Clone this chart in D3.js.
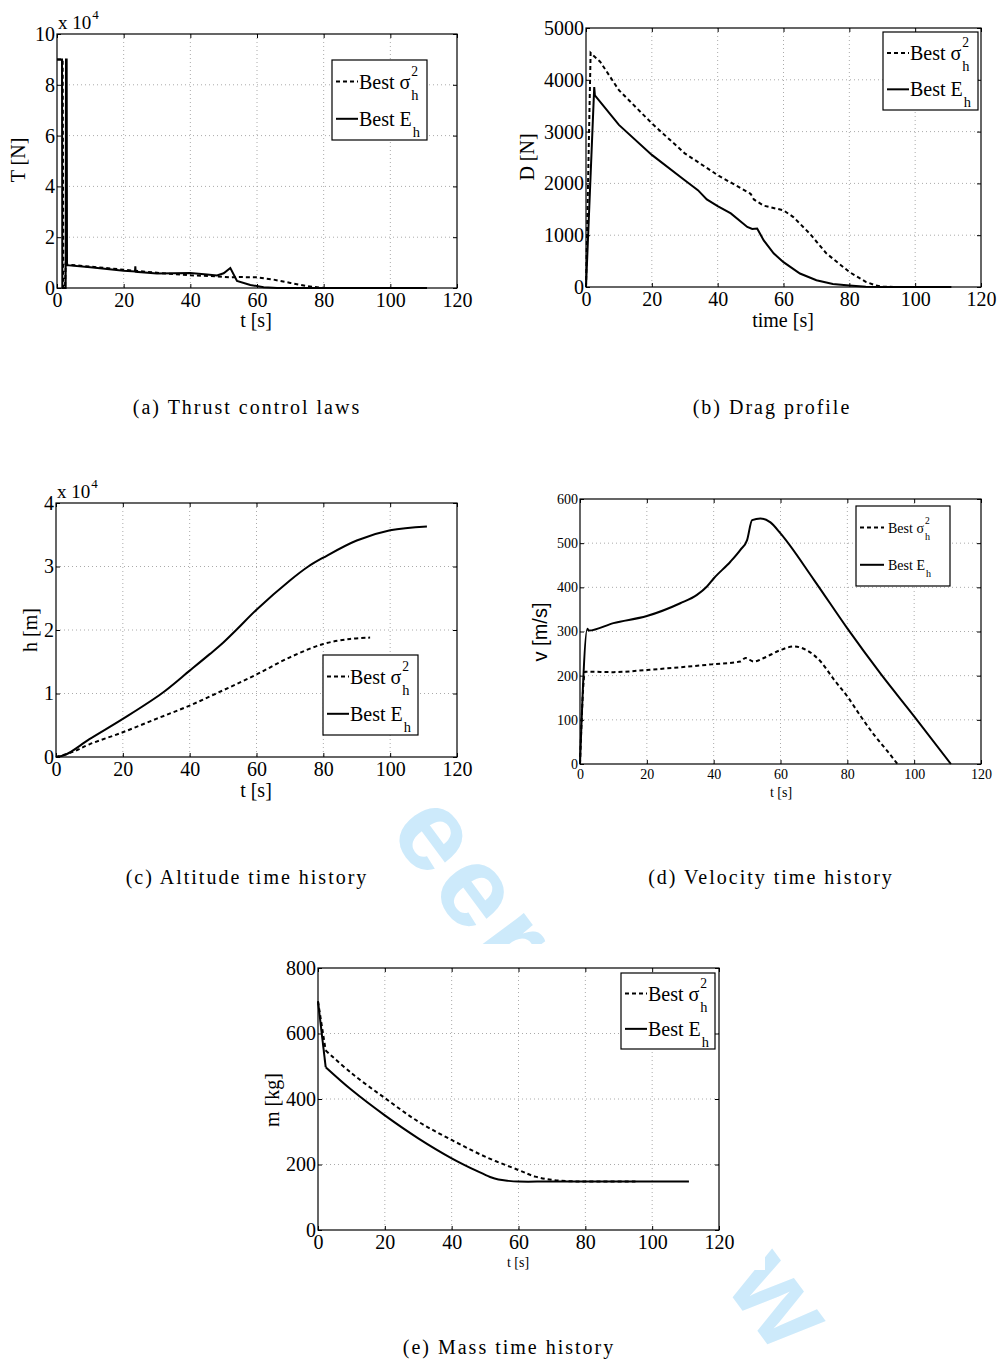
<!DOCTYPE html>
<html>
<head>
<meta charset="utf-8">
<script src="https://cdn.jsdelivr.net/npm/d3@7"></script>
<style>
  body { margin: 0; background: #fff; }
  svg { display: block; }
  .tick text { font-family: "Liberation Serif", serif; fill: #000; }
  .lbl { font-family: "Liberation Serif", serif; fill: #000; }
  .cap { font-family: "Liberation Serif", serif; fill: #000; letter-spacing: 2px; }
</style>
</head>
<body>
<svg width="999" height="1360"></svg>
<script>
// ---- data: [t (s), value] ----
var thrustSigma = [[0,9],[1.7,9],[1.9,0],[2.4,0],[2.6,0.95],[3,0.92],[10,0.84],[20,0.72],[30,0.6],[40,0.5],[48,0.46],[52,0.42],[55,0.43],[60,0.42],[65,0.33],[70,0.2],[75,0.07],[80,0],[95,0]]; // x 10^4 N
var thrustE = [[0,9],[1.5,9],[1.6,0],[2.6,0],[2.7,9],[2.9,9],[3.0,0.9],[10,0.82],[20,0.68],[23.4,0.65],[23.5,0.85],[23.6,0.64],[30,0.57],[40,0.59],[45,0.53],[48,0.49],[50,0.58],[52,0.79],[54,0.28],[58,0.12],[62,0.03],[66,0],[111,0]];

var dragSigma = [[0,0],[1.4,4520],[2,4480],[4.3,4350],[10,3800],[20,3160],[30,2580],[40,2160],[45,1980],[50,1800],[51,1690],[54,1570],[60,1480],[63,1350],[68,1030],[73,650],[80,290],[85,100],[88,30],[90,5],[95,0]];
var dragE = [[0,0],[2.5,3860],[2.7,3700],[10,3130],[20,2550],[30,2060],[34,1870],[36.7,1690],[40,1560],[44,1420],[49,1160],[50.5,1120],[52,1130],[54,900],[57,650],[60,480],[65,260],[70,130],[75,60],[80,30],[85,5],[90,0],[111,0]];

var altSigma = [[0,0],[5,0.08],[10,0.2],[20,0.39],[30,0.6],[40,0.81],[50,1.05],[60,1.3],[70,1.57],[80,1.78],[88,1.86],[94,1.88]]; // x 10^4 m
var altE = [[0,0],[3,0.04],[10,0.28],[20,0.6],[31.6,1.0],[40,1.36],[46,1.62],[50,1.8],[54.3,2.02],[60,2.32],[70,2.78],[75.5,3.0],[80,3.14],[90,3.41],[100,3.57],[111,3.63]];

var velSigma = [[0,0],[1.5,209],[10,208],[20,213],[30,219],[40,226],[48,232],[49.5,240],[52,232],[55,240],[60,258],[64,266],[68,257],[72,232],[76,191],[80,153],[84,108],[88,66],[92,29],[95,0]];
var velE = [[0,0],[2.2,306],[2.6,302],[10,319],[20,335],[30,364],[35,383],[38,402],[40,420],[45,458],[48,485],[50,507],[51.5,552],[54,556],[57,547],[60,522],[70,417],[80,307],[90,204],[100,108],[111,0]];

var massSigma = [[0,698],[2.3,548],[10,479],[20,403],[30,331],[40,275],[50,224],[60,183],[65,163],[70,153],[75,149],[80,148],[95,148]];
var massE = [[0,698],[2.3,497],[10,428],[20,350],[30,280],[40,219],[48,178],[51.5,162],[54,154],[57,150],[60,148],[70,148],[111,148]];

var xTicks = [0,20,40,60,80,100,120];
var legendNames = ['Best \u03c3', 'Best E'];

var svg = d3.select('svg');
svg.append('rect').attr('width', 999).attr('height', 1360).attr('fill', '#fff');

// watermark (partly hidden behind the figure images)
svg.append('text')
  .attr('transform', 'translate(338,764) rotate(53.5)')
  .attr('font-family', '"Liberation Sans", Arial, sans-serif')
  .attr('font-weight', 'bold')
  .attr('font-size', 115)
  .attr('letter-spacing', '6px')
  .attr('fill', '#cdeafb')
  .text('Peer Review');

// white figure areas
[[0,465,495,801],[495,475,999,801],[250,944,765,1270]].forEach(function(r) {
  svg.append('rect').attr('x', r[0]).attr('y', r[1])
    .attr('width', r[2]-r[0]).attr('height', r[3]-r[1]).attr('fill', '#fff');
});

var smooth = d3.curveCatmullRom.alpha(0.5);
var panels = [
  {box:[57,34,457,288], yMax:10, yTicks:[0,2,4,6,8,10], fs:20, data:[thrustSigma, thrustE], curve:d3.curveLinear,
   yLabel:'T [N]', yLab:[18,160], xLabel:'t [s]', xLab:[256,327], xfs:20, exp:true,
   legend:[332,60,95,80,20], caption:'(a) Thrust control laws', cap:[247,414]},
  {box:[586,28,981,287], yMax:5000, yTicks:[0,1000,2000,3000,4000,5000], fs:20, data:[dragSigma, dragE], curve:d3.curveLinear,
   yLabel:'D [N]', yLab:[527,157], xLabel:'time [s]', xLab:[783,327], xfs:20,
   legend:[883,32,95,78,20], caption:'(b) Drag profile', cap:[772,414]},
  {box:[56,503,457,757], yMax:4, yTicks:[0,1,2,3,4], fs:20, data:[altSigma, altE], curve:smooth,
   yLabel:'h [m]', yLab:[30,630], xLabel:'t [s]', xLab:[256,797], xfs:20, exp:true,
   legend:[323,655,95,80,20], caption:'(c) Altitude time history', cap:[247,884]},
  {box:[580,499,981,764], yMax:600, yTicks:[0,100,200,300,400,500,600], fs:14, data:[velSigma, velE], curve:d3.curveMonotoneX,
   yLabel:'v [m/s]', yLab:[540,632], yLabelSans:true, xLabel:'t [s]', xLab:[781,797], xfs:14,
   legend:[856,506,94,80,14], caption:'(d) Velocity time history', cap:[771,884]},
  {box:[318,968,719,1230], yMax:800, yTicks:[0,200,400,600,800], fs:20, data:[massSigma, massE], curve:smooth, kink:1,
   yLabel:'m [kg]', yLab:[272,1100], xLabel:'t [s]', xLab:[518,1267], xfs:14,
   legend:[621,973,94,76,20], caption:'(e) Mass time history', cap:[509,1354]}
];

panels.forEach(function(p) {
  var x0 = p.box[0], y0 = p.box[1], x1 = p.box[2], y1 = p.box[3];
  var x = d3.scaleLinear().domain([0,120]).range([x0,x1]);
  var y = d3.scaleLinear().domain([0,p.yMax]).range([y1,y0]);
  var g = svg.append('g');

  g.append('rect').attr('x', x0).attr('y', y0).attr('width', x1-x0).attr('height', y1-y0).attr('fill', '#fff');

  // dotted grid
  g.selectAll('.gx').data(xTicks.slice(1,-1)).enter().append('line')
    .attr('x1', x).attr('x2', x).attr('y1', y0).attr('y2', y1)
    .attr('stroke', '#aaa').attr('stroke-width', 1).attr('stroke-dasharray', '1,3');
  g.selectAll('.gy').data(p.yTicks.slice(1,-1)).enter().append('line')
    .attr('x1', x0).attr('x2', x1).attr('y1', y).attr('y2', y)
    .attr('stroke', '#aaa').attr('stroke-width', 1).attr('stroke-dasharray', '1,3');

  // axes, ticks inward
  var plain = function(d) { return String(d); };
  g.append('g').attr('transform', 'translate(0,' + y1 + ')')
    .call(d3.axisBottom(x).tickValues(xTicks).tickSize(-4).tickPadding(5).tickFormat(plain));
  g.append('g').attr('transform', 'translate(' + x0 + ',0)')
    .call(d3.axisLeft(y).tickValues(p.yTicks).tickSize(-4).tickPadding(2).tickFormat(plain));
  g.append('g').attr('transform', 'translate(0,' + y0 + ')')
    .call(d3.axisTop(x).tickValues(xTicks).tickSize(-4).tickFormat(''));
  g.append('g').attr('transform', 'translate(' + x1 + ',0)')
    .call(d3.axisRight(y).tickValues(p.yTicks).tickSize(-4).tickFormat(''));
  g.selectAll('.tick text').attr('font-size', p.fs);
  g.selectAll('.domain').remove();
  g.selectAll('.tick line').attr('stroke', '#000');

  // series (an optional sharp first segment, then the curve)
  var line = d3.line().x(function(d) { return x(d[0]); }).y(function(d) { return y(d[1]); }).curve(p.curve);
  var lineStraight = d3.line().x(function(d) { return x(d[0]); }).y(function(d) { return y(d[1]); });
  p.data.forEach(function(s, i) {
    var parts = p.kink ? [[lineStraight, s.slice(0, p.kink + 1)], [line, s.slice(p.kink)]] : [[line, s]];
    parts.forEach(function(pt) {
      g.append('path').datum(pt[1]).attr('d', pt[0])
        .attr('fill', 'none').attr('stroke', '#000').attr('stroke-width', 2)
        .attr('stroke-dasharray', i === 0 ? '4,3' : null);
    });
  });

  g.append('rect').attr('x', x0).attr('y', y0).attr('width', x1-x0).attr('height', y1-y0)
    .attr('fill', 'none').attr('stroke', '#000').attr('stroke-width', 1.2);

  // labels
  g.append('text').attr('class', 'lbl')
    .attr('transform', 'translate(' + p.yLab[0] + ',' + p.yLab[1] + ') rotate(-90)')
    .attr('text-anchor', 'middle').attr('dy', '0.35em')
    .attr('font-size', 20)
    .style('font-family', p.yLabelSans ? '"Liberation Sans", Arial, sans-serif' : null)
    .text(p.yLabel);
  g.append('text').attr('class', 'lbl').attr('x', p.xLab[0]).attr('y', p.xLab[1])
    .attr('text-anchor', 'middle').attr('font-size', p.xfs).text(p.xLabel);

  if (p.exp) {
    var ex = g.append('text').attr('class', 'lbl').attr('x', x0 + 1).attr('y', y0 - 5)
      .attr('font-size', 19).text('x 10');
    var exw = ex.node().getComputedTextLength();
    g.append('text').attr('class', 'lbl').attr('x', x0 + 2 + exw).attr('y', y0 - 15)
      .attr('font-size', 13).text('4');
  }

  // legend
  var L = p.legend, fs = L[4];
  g.append('rect').attr('x', L[0]).attr('y', L[1]).attr('width', L[2]).attr('height', L[3])
    .attr('fill', '#fff').attr('stroke', '#000').attr('stroke-width', 1.2);
  [0,1].forEach(function(i) {
    var cy = L[1] + L[3] * (i === 0 ? 0.27 : 0.735);
    var small = fs < 16;
    var lx0 = L[0] + 4, lx1 = L[0] + (small ? 28 : 26);
    g.append('line').attr('x1', lx0).attr('x2', lx1).attr('y1', cy).attr('y2', cy)
      .attr('stroke', '#000').attr('stroke-width', 2)
      .attr('stroke-dasharray', i === 0 ? '4,3' : null);
    var tx = lx1 + (small ? 4 : 1);
    var t = g.append('text').attr('class', 'lbl').attr('x', tx).attr('y', cy + fs * 0.35)
      .attr('font-size', fs).text(legendNames[i]);
    var w = t.node().getComputedTextLength();
    if (i === 0) {
      g.append('text').attr('class', 'lbl').attr('x', tx + w + 1).attr('y', cy - fs * 0.28)
        .attr('font-size', fs * 0.68).text('2');
    }
    g.append('text').attr('class', 'lbl').attr('x', tx + w + 1).attr('y', cy + fs * 0.9)
      .attr('font-size', fs * 0.72).text('h');
  });

  // caption
  svg.append('text').attr('class', 'cap').attr('x', p.cap[0]).attr('y', p.cap[1])
    .attr('text-anchor', 'middle').attr('font-size', 20).text(p.caption);
});
</script>
</body>
</html>
